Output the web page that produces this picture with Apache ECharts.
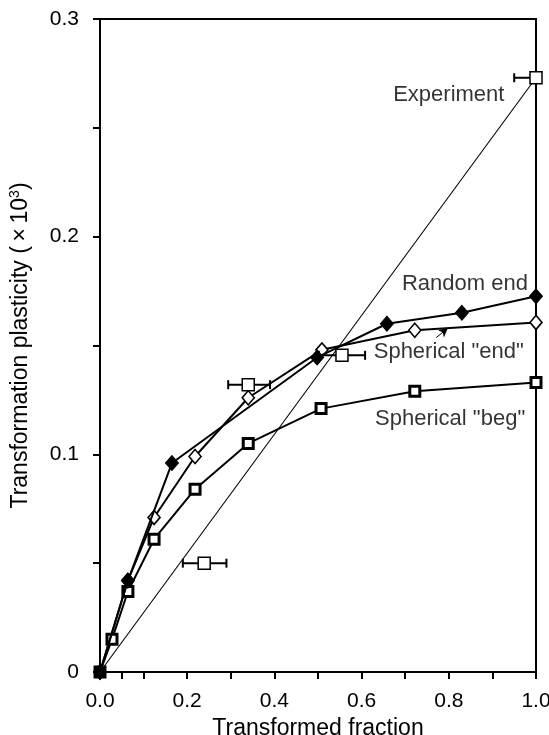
<!DOCTYPE html>
<html>
<head>
<meta charset="utf-8">
<script src="https://cdn.jsdelivr.net/npm/echarts@6/dist/echarts.min.js"></script>
<style>
  html, body { margin: 0; padding: 0; background: #fff; }
  #chart { width: 549px; height: 735px; }
</style>
</head>
<body>
<div id="chart"></div>
<script>
// Transformed fraction (x) for each model curve, and plasticity (x10^3) (y)
const randomEndX = [0, 0.064, 0.165, 0.498, 0.658, 0.83, 1.0];
const randomEndY = [0, 0.042, 0.096, 0.1445, 0.160, 0.165, 0.1726];

const sphEndX = [0, 0.064, 0.124, 0.218, 0.34, 0.509, 0.722, 1.0];
const sphEndY = [0, 0.042, 0.071, 0.099, 0.126, 0.148, 0.157, 0.1606];

const sphBegX = [0, 0.0275, 0.064, 0.124, 0.218, 0.34, 0.507, 0.722, 1.0];
const sphBegY = [0, 0.015, 0.037, 0.061, 0.084, 0.105, 0.121, 0.129, 0.133];

// Measured points with horizontal error ranges
const expX = [0.239, 0.34, 0.555, 1.0];
const expY = [0.050, 0.132, 0.1455, 0.273];
const expXLow = [0.19, 0.294, 0.502, 0.95];
const expXHigh = [0.29, 0.39, 0.608, 1.0];

// Straight reference line from the origin to the final measurement
const refLineX = [0, 1.0];
const refLineY = [0, 0.273];

// Axis ticks and labels
const xTicks = [0, 0.05, 0.1, 0.2, 0.3, 0.4, 0.5, 0.6, 0.7, 0.8, 0.9, 1.0];
const xLabels = [0, 0.2, 0.4, 0.6, 0.8, 1.0];
const yTicks = [0, 0.05, 0.1, 0.15, 0.2, 0.25, 0.3];
const yLabels = [0, 0.1, 0.2, 0.3];

// Curve annotations: [x, y, text]
const curveNotes = [
  [0.80, 0.2653, 'Experiment'],
  [0.837, 0.1785, 'Random end'],
  [0.80, 0.147, 'Spherical "end"'],
  [0.803, 0.1163, 'Spherical "beg"']
];
// Pointer from the 'Spherical "end"' note to its curve
const notePointer = [[0.771, 0.1536], [0.798, 0.158]];

const zip = (xs, ys) => xs.map((x, i) => [x, ys[i]]);
const FONT = 'Liberation Sans, Arial, Helvetica, sans-serif';

const chart = echarts.init(document.getElementById('chart'), null, { renderer: 'canvas' });

chart.setOption({
  backgroundColor: '#fff',
  animation: false,
  grid: {
    left: 100, right: 13, top: 19, bottom: 63,
    outerBoundsMode: 'none', containLabel: false,
    show: true, borderColor: '#000', borderWidth: 2, backgroundColor: 'transparent'
  },
  xAxis: {
    type: 'value', min: 0, max: 1, interval: 0.2,
    name: 'Transformed fraction',
    nameLocation: 'middle', nameGap: 38,
    nameTextStyle: { color: '#000', fontSize: 23, fontFamily: FONT },
    axisLine: { show: true, onZero: false, lineStyle: { color: '#000', width: 2 } },
    axisTick: { show: true, length: 7, lineStyle: { color: '#000', width: 2 }, customValues: xTicks },
    axisLabel: {
      color: '#000', fontSize: 21, fontFamily: FONT, margin: 19,
      customValues: xLabels,
      formatter: v => v.toFixed(1)
    },
    splitLine: { show: false }
  },
  yAxis: {
    type: 'value', min: 0, max: 0.3, interval: 0.1,
    name: 'Transformation plasticity (\u2009×\u200910{sup|3})',
    nameLocation: 'middle', nameGap: 66,
    nameTextStyle: {
      color: '#000', fontSize: 23, fontFamily: FONT,
      rich: { sup: { fontSize: 14, verticalAlign: 'top', padding: [0, 0, 12, 0], color: '#000', fontFamily: FONT } }
    },
    axisLine: { show: true, lineStyle: { color: '#000', width: 2 } },
    axisTick: { show: true, length: 7, lineStyle: { color: '#000', width: 2 }, customValues: yTicks },
    axisLabel: {
      color: '#000', fontSize: 21, fontFamily: FONT, margin: 21,
      customValues: yLabels,
      formatter: v => (v === 0 ? '0' : v.toFixed(1))
    },
    splitLine: { show: false }
  },
  series: [
    {
      name: 'reference',
      type: 'line',
      data: zip(refLineX, refLineY),
      showSymbol: false, symbol: 'none',
      lineStyle: { color: '#000', width: 1.1 },
      z: 1
    },
    {
      name: 'Spherical "beg"',
      type: 'line',
      data: zip(sphBegX, sphBegY),
      symbol: 'rect', symbolSize: 10,
      lineStyle: { color: '#000', width: 2 },
      itemStyle: { color: '#fff', borderColor: '#000', borderWidth: 3 },
      z: 3
    },
    {
      name: 'Spherical "end"',
      type: 'line',
      data: zip(sphEndX, sphEndY),
      symbol: 'diamond', symbolSize: [12, 14],
      lineStyle: { color: '#000', width: 2 },
      itemStyle: { color: '#fff', borderColor: '#000', borderWidth: 1.6 },
      markLine: {
        silent: true,
        symbol: ['none', 'arrow'], symbolSize: [7, 9],
        lineStyle: { color: '#000', width: 1, type: 'solid' },
        label: { show: false },
        data: [[{ coord: notePointer[0] }, { coord: notePointer[1] }]]
      },
      z: 4
    },
    {
      name: 'Random end',
      type: 'line',
      data: zip(randomEndX, randomEndY),
      symbol: 'diamond', symbolSize: [13, 15],
      lineStyle: { color: '#000', width: 2 },
      itemStyle: { color: '#000', borderColor: '#000', borderWidth: 1 },
      z: 5
    },
    {
      name: 'error',
      type: 'custom',
      data: expX.map((x, i) => [expXLow[i], expXHigh[i], expY[i]]),
      renderItem: (params, api) => {
        const lo = api.coord([api.value(0), api.value(2)]);
        const hi = api.coord([api.value(1), api.value(2)]);
        const h = 4.5;
        const style = { stroke: '#000', lineWidth: 2 };
        return {
          type: 'group',
          children: [
            { type: 'line', shape: { x1: lo[0], y1: lo[1], x2: hi[0], y2: hi[1] }, style },
            { type: 'line', shape: { x1: lo[0], y1: lo[1] - h, x2: lo[0], y2: lo[1] + h }, style },
            { type: 'line', shape: { x1: hi[0], y1: hi[1] - h, x2: hi[0], y2: hi[1] + h }, style }
          ]
        };
      },
      encode: { x: [0, 1], y: 2 },
      clip: false,
      z: 6
    },
    {
      name: 'Experiment',
      type: 'scatter',
      data: zip(expX, expY),
      symbol: 'rect', symbolSize: 12,
      itemStyle: { color: '#fff', borderColor: '#000', borderWidth: 1.5, opacity: 1 },
      z: 7
    },
    {
      name: 'notes',
      type: 'scatter',
      data: curveNotes,
      symbolSize: 0,
      silent: true,
      itemStyle: { color: '#000' },
      label: {
        show: true, position: 'inside',
        formatter: p => p.data[2],
        color: '#000', fontSize: 22, fontFamily: FONT,
        textBorderWidth: 0
      },
      z: 8
    }
  ]
});
</script>
</body>
</html>
